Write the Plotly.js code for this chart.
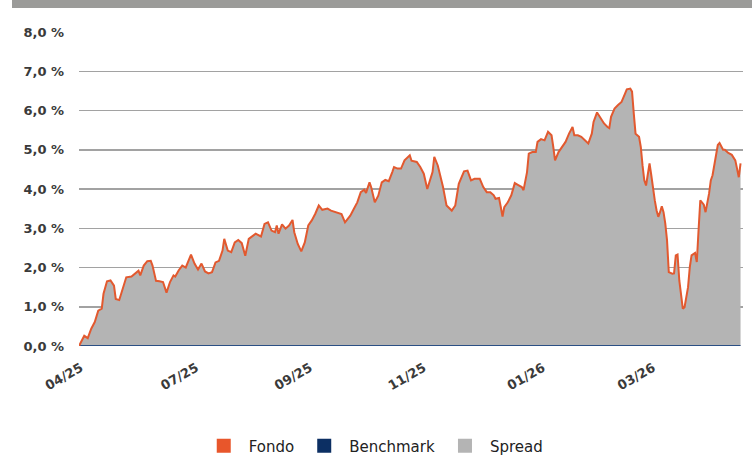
<!DOCTYPE html>
<html>
<head>
<meta charset="utf-8">
<script src="https://cdn.plot.ly/plotly-3.0.1.min.js"></script>
<style>
  html, body { margin: 0; padding: 0; background: #ffffff; overflow: hidden; }
  #wrap { position: relative; width: 752px; height: 457px; overflow: hidden; }
  #topbar { position: absolute; left: 12px; top: 0; width: 740px; height: 8px; background: #9b9b99; z-index: 5; }
  #chart { position: absolute; left: 0; top: 0; width: 752px; height: 472px; }
</style>
</head>
<body>
<div id="wrap">
  <div id="chart"></div>
  <div id="topbar"></div>
</div>
<script>
// Day offset (calendar days from the first observation, end of April 2025)
const days = [0,3,5,7,9,11,13,14,16,18,20,21,23,25,27,30,32,34,35,37,39,41,42,44,46,48,50,52,54,55,57,59,61,64,66,68,70,72,74,
  76,78,80,82,83,85,87,89,91,93,95,97,99,101,102,104,106,108,110,112,113,114,116,118,120,122,123,125,127,129,131,133,135,137,139,142,144,147,
  150,152,155,157,159,161,163,164,166,167,169,171,173,175,177,179,180,182,184,186,189,190,193,195,197,199,202,203,205,208,210,213,215,217,220,
  222,224,226,229,231,233,235,237,238,240,241,242,243,245,247,249,251,253,254,256,257,259,261,262,264,266,268,270,271,272,274,276,278,280,282,283,285,287,289,291,293,294,296,
  298,300,302,303,304,306,308,310,312,313,315,316,317,318,320,321,322,323,324,326,327,328,329,330,331,332,333,334,335,336,337,339,340,341,342,343,344,345,346,348,349,350,352,353,354,355,357,358,360,361,362,364,365,366,368,369,371,373,375,376,377,378];

// Fondo cumulative performance (%)
const fondo = [0,0.26,0.2,0.44,0.61,0.9,0.95,1.33,1.65,1.67,1.54,1.2,1.17,1.49,1.75,1.77,1.84,1.92,1.8,2.05,2.16,2.17,2.05,1.66,1.65,1.63,1.36,1.63,1.8,1.77,1.93,2.05,2.0,2.33,2.1,1.95,2.1,1.9,1.85,
  1.88,2.13,2.17,2.43,2.73,2.43,2.39,2.64,2.7,2.62,2.3,2.73,2.79,2.86,2.84,2.79,3.11,3.15,2.94,2.9,3.07,2.86,3.1,2.99,3.07,3.21,2.9,2.6,2.41,2.64,3.07,3.2,3.37,3.58,3.47,3.5,3.45,3.41,
  3.36,3.15,3.32,3.49,3.66,3.92,3.98,3.9,4.17,4.04,3.66,3.83,4.17,4.23,4.2,4.43,4.56,4.52,4.52,4.73,4.86,4.72,4.69,4.56,4.39,4.0,4.43,4.82,4.6,4.05,3.58,3.45,3.58,4.13,4.45,
  4.47,4.22,4.26,4.26,4.05,3.92,3.92,3.84,3.75,3.77,3.54,3.3,3.54,3.66,3.84,4.15,4.1,4.05,3.97,4.43,4.9,4.94,4.94,5.2,5.27,5.24,5.46,5.37,5.07,4.73,4.94,5.07,5.2,5.41,5.58,5.37,5.37,5.33,5.24,5.16,5.41,5.71,5.95,
  5.8,5.67,5.58,5.55,5.84,6.05,6.14,6.22,6.43,6.54,6.56,6.48,5.92,5.41,5.33,5.07,4.6,4.22,4.09,4.65,4.35,3.97,3.71,3.46,3.29,3.41,3.56,3.41,3.12,2.69,1.88,1.84,1.85,2.31,2.33,1.67,1.33,0.95,0.99,1.5,2.01,2.31,2.37,2.14,2.95,3.71,3.6,3.41,3.88,4.22,4.35,4.82,5.12,5.17,5.0,5.0,4.92,4.87,4.73,4.52,4.3,4.65];

// Benchmark (%): flat at zero over the whole period
const benchDays = [0, 378];
const benchmark = [0, 0];

// Spread = Fondo - Benchmark (benchmark is 0, so the spread equals the fund values)
const spread = fondo;

// Axis ticks
const xTickDays = [1, 67, 132, 197, 265, 328];
const xTickLabels = ['04/25', '07/25', '09/25', '11/25', '01/26', '03/26'];
const yTickVals = [0, 1, 2, 3, 4, 5, 6, 7, 8];
const yTickLabels = ['0,0 %', '1,0 %', '2,0 %', '3,0 %', '4,0 %', '5,0 %', '6,0 %', '7,0 %', '8,0 %'];

// Legend
const seriesNames = ['Fondo', 'Benchmark', 'Spread'];
const seriesColors = ['#e8562b', '#0c2f63', '#b4b4b4'];

const traces = [
  { x: days, y: spread, type: 'scatter', mode: 'lines', fill: 'tozeroy',
    fillcolor: '#b4b4b4', line: { width: 0, color: '#b4b4b4' }, showlegend: false, hoverinfo: 'skip' },
  { x: benchDays, y: benchmark, type: 'scatter', mode: 'lines',
    line: { width: 2.2, color: '#2b4f84' }, showlegend: false, hoverinfo: 'skip' },
  { x: days, y: fondo, type: 'scatter', mode: 'lines',
    line: { width: 2, color: '#e2592f' }, showlegend: false, hoverinfo: 'skip' }
];
seriesNames.forEach((n, i) => {
  traces.push({ x: [null], y: [null], type: 'scatter', mode: 'markers', name: n,
    marker: { symbol: 'square', size: 14, color: seriesColors[i] }, showlegend: true });
});

const tickFont = { family: 'DejaVu Sans, sans-serif', size: 13, color: '#3a3a3a', weight: 'bold' };

const H = 472;
const layout = {
  width: 752, height: H,
  margin: { l: 79, r: 9, t: 32, b: H - 346 },
  paper_bgcolor: '#ffffff', plot_bgcolor: '#ffffff',
  font: { family: 'DejaVu Sans, sans-serif', size: 12, color: '#333333' },
  showlegend: true,
  xaxis: {
    range: [0, 379.4], showgrid: false, zeroline: false, showline: false,
    tickmode: 'array', tickvals: xTickDays, ticktext: xTickLabels,
    tickangle: -30, ticks: '', ticklabelstandoff: 11,
    tickfont: tickFont
  },
  yaxis: {
    range: [0, 8], showgrid: true, gridcolor: '#a2a2a2', gridwidth: 1.5,
    zeroline: false, showline: false,
    tickmode: 'array', tickvals: yTickVals, ticktext: yTickLabels,
    ticks: '', ticklabelstandoff: 14,
    tickfont: tickFont
  },
  legend: {
    orientation: 'h', xref: 'container', yref: 'container',
    x: 0.497, xanchor: 'center', y: (H - 446) / H, yanchor: 'middle',
    itemwidth: 40,
    font: { family: 'DejaVu Sans, sans-serif', size: 15, color: '#222222' },
    bgcolor: 'rgba(0,0,0,0)', itemclick: false
  }
};

Plotly.newPlot('chart', traces, layout, { staticPlot: true, displayModeBar: false });
</script>
</body>
</html>
